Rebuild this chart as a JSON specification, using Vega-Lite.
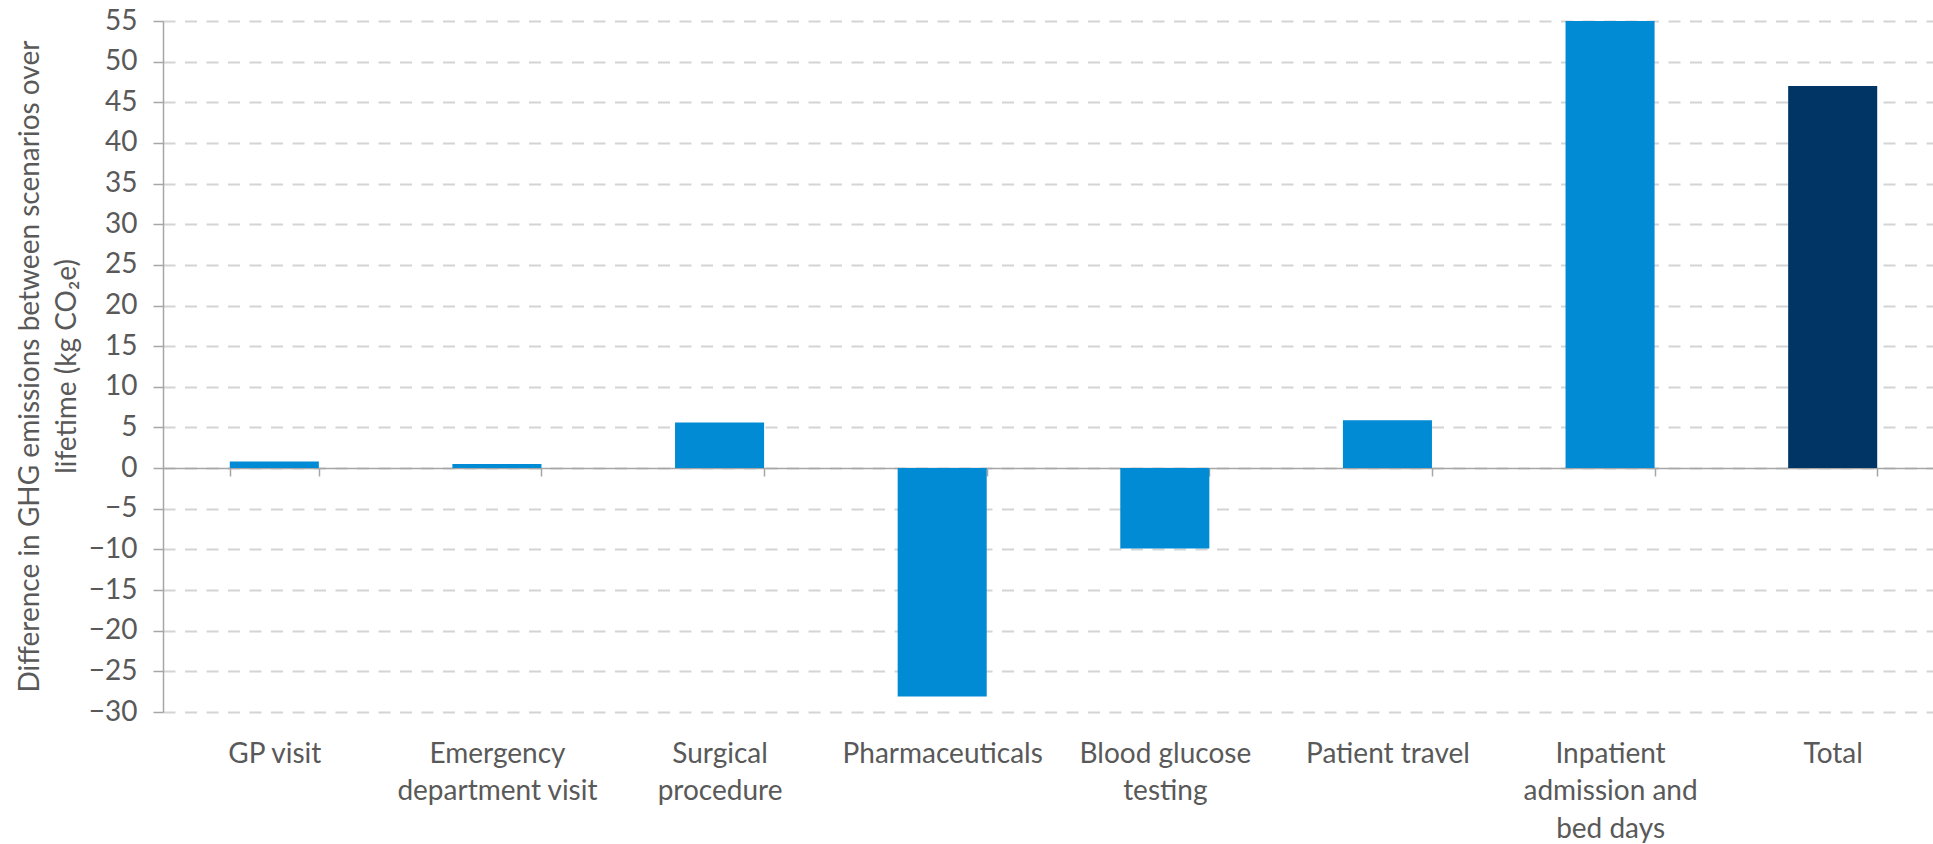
{
  "$schema": "https://vega.github.io/schema/vega-lite/v6.json",
  "width": 1770,
  "height": 691,
  "autosize": "none",
  "padding": {"left": 163, "top": 21, "right": 0, "bottom": 132},
  "background": "white",
  "config": {
    "view": {"stroke": null},
    "font": "Lato"
  },
  "data": {
    "values": [
      {"category": "GP visit", "value": 0.8, "kind": "item"},
      {"category": "Emergency department visit", "value": 0.5, "kind": "item"},
      {"category": "Surgical procedure", "value": 5.6, "kind": "item"},
      {"category": "Pharmaceuticals", "value": -28.1, "kind": "item"},
      {"category": "Blood glucose testing", "value": -9.9, "kind": "item"},
      {"category": "Patient travel", "value": 5.9, "kind": "item"},
      {"category": "Inpatient admission and bed days", "value": 55, "kind": "item"},
      {"category": "Total", "value": 47, "kind": "total"}
    ]
  },
  "mark": {"type": "bar", "clip": true},
  "encoding": {
    "x": {
      "field": "category",
      "type": "nominal",
      "sort": null,
      "scale": {"paddingInner": 0.6, "paddingOuter": 0.3, "range": [0, 1781]},
      "axis": {
        "title": null,
        "offset": -244,
        "domainColor": "#a6a6a6",
        "domainWidth": 1.5,
        "tickColor": "#a6a6a6",
        "tickWidth": 1.5,
        "tickSize": 8,
        "tickBand": "extent",
        "labelAngle": 0,
        "labelAlign": "center",
        "labelBaseline": "top",
        "labelPadding": 264,
        "labelFont": "Lato",
        "labelFontSize": 28,
        "labelColor": "#595959",
        "labelLineHeight": 37.5,
        "labelLimit": 400,
        "labelExpr": "datum.label == 'Emergency department visit' ? ['Emergency', 'department visit'] : datum.label == 'Surgical procedure' ? ['Surgical', 'procedure'] : datum.label == 'Blood glucose testing' ? ['Blood glucose', 'testing'] : datum.label == 'Inpatient admission and bed days' ? ['Inpatient', 'admission and', 'bed days'] : datum.label"
      }
    },
    "y": {
      "field": "value",
      "type": "quantitative",
      "scale": {"domain": [-30, 55], "nice": false, "zero": false},
      "axis": {
        "values": [-30, -25, -20, -15, -10, -5, 0, 5, 10, 15, 20, 25, 30, 35, 40, 45, 50, 55],
        "title": ["Difference in GHG emissions between scenarios over", "lifetime (kg CO₂e)"],
        "titleFont": "Lato",
        "titleFontSize": 28,
        "titleFontWeight": "normal",
        "titleColor": "#595959",
        "titleLineHeight": 37,
        "titleAngle": -90,
        "titleAlign": "center",
        "titleBaseline": "top",
        "titleX": -147,
        "titleY": 345,
        "domainColor": "#a6a6a6",
        "domainWidth": 1.5,
        "tickColor": "#a6a6a6",
        "tickWidth": 1.5,
        "tickSize": 10,
        "labelPadding": 16,
        "labelFont": "Lato",
        "labelFontSize": 28,
        "labelColor": "#595959",
        "grid": true,
        "gridColor": "#d4d4d4",
        "gridWidth": 2,
        "gridDash": [12, 9.5]
      }
    },
    "color": {
      "field": "kind",
      "type": "nominal",
      "scale": {"domain": ["item", "total"], "range": ["#008bd4", "#003566"]},
      "legend": null
    }
  }
}
